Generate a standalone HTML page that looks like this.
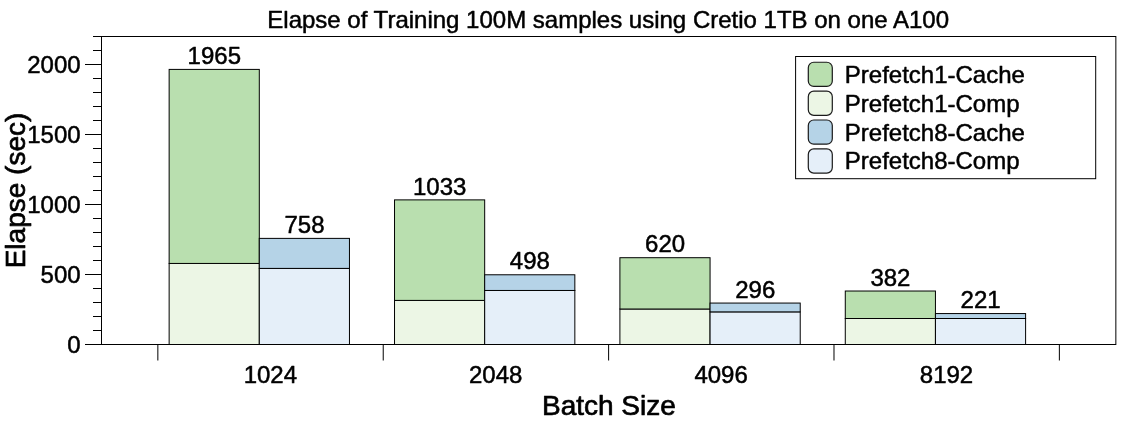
<!DOCTYPE html>
<html><head><meta charset="utf-8"><title>chart</title>
<style>
html,body{margin:0;padding:0;background:#fff;}
svg{display:block}
text{font-family:"Liberation Sans",sans-serif;fill:#000;stroke:#000;stroke-width:0.5px;stroke-linejoin:round}
svg{will-change:transform}
.t24{font-size:24px}
.t28{font-size:28px;stroke-width:0.7px}
</style></head><body>
<svg width="1128" height="426" viewBox="0 0 1128 426">
<rect x="0" y="0" width="1128" height="426" fill="#fff"/>
<rect x="169.14" y="263.44" width="90.16" height="81.06" fill="#ecf6e5" stroke="#000" stroke-width="1"/>
<rect x="169.14" y="69.40" width="90.16" height="194.04" fill="#b9dfaf" stroke="#000" stroke-width="1"/>
<rect x="259.30" y="268.40" width="90.16" height="76.10" fill="#e5eff9" stroke="#000" stroke-width="1"/>
<rect x="259.30" y="238.38" width="90.16" height="30.02" fill="#b5d3e7" stroke="#000" stroke-width="1"/>
<rect x="394.52" y="300.40" width="90.16" height="44.10" fill="#ecf6e5" stroke="#000" stroke-width="1"/>
<rect x="394.52" y="199.88" width="90.16" height="100.52" fill="#b9dfaf" stroke="#000" stroke-width="1"/>
<rect x="484.68" y="290.46" width="90.16" height="54.04" fill="#e5eff9" stroke="#000" stroke-width="1"/>
<rect x="484.68" y="274.78" width="90.16" height="15.68" fill="#b5d3e7" stroke="#000" stroke-width="1"/>
<rect x="619.90" y="309.00" width="90.16" height="35.50" fill="#ecf6e5" stroke="#000" stroke-width="1"/>
<rect x="619.90" y="257.70" width="90.16" height="51.30" fill="#b9dfaf" stroke="#000" stroke-width="1"/>
<rect x="710.06" y="311.89" width="90.16" height="32.61" fill="#e5eff9" stroke="#000" stroke-width="1"/>
<rect x="710.06" y="303.06" width="90.16" height="8.83" fill="#b5d3e7" stroke="#000" stroke-width="1"/>
<rect x="845.28" y="318.50" width="90.16" height="26.00" fill="#ecf6e5" stroke="#000" stroke-width="1"/>
<rect x="845.28" y="291.02" width="90.16" height="27.48" fill="#b9dfaf" stroke="#000" stroke-width="1"/>
<rect x="935.44" y="318.50" width="90.16" height="26.00" fill="#e5eff9" stroke="#000" stroke-width="1"/>
<rect x="935.44" y="313.56" width="90.16" height="4.94" fill="#b5d3e7" stroke="#000" stroke-width="1"/>
<rect x="101.5" y="36.5" width="1014.3499999999999" height="308.0" fill="none" stroke="#000" stroke-width="1"/>
<line x1="85" y1="344.50" x2="101.5" y2="344.50" stroke="#000" stroke-width="1"/>
<line x1="93" y1="330.50" x2="101.5" y2="330.50" stroke="#000" stroke-width="1"/>
<line x1="93" y1="316.50" x2="101.5" y2="316.50" stroke="#000" stroke-width="1"/>
<line x1="93" y1="302.50" x2="101.5" y2="302.50" stroke="#000" stroke-width="1"/>
<line x1="93" y1="288.50" x2="101.5" y2="288.50" stroke="#000" stroke-width="1"/>
<line x1="85" y1="274.50" x2="101.5" y2="274.50" stroke="#000" stroke-width="1"/>
<line x1="93" y1="260.50" x2="101.5" y2="260.50" stroke="#000" stroke-width="1"/>
<line x1="93" y1="246.50" x2="101.5" y2="246.50" stroke="#000" stroke-width="1"/>
<line x1="93" y1="232.50" x2="101.5" y2="232.50" stroke="#000" stroke-width="1"/>
<line x1="93" y1="218.50" x2="101.5" y2="218.50" stroke="#000" stroke-width="1"/>
<line x1="85" y1="204.50" x2="101.5" y2="204.50" stroke="#000" stroke-width="1"/>
<line x1="93" y1="190.50" x2="101.5" y2="190.50" stroke="#000" stroke-width="1"/>
<line x1="93" y1="176.50" x2="101.5" y2="176.50" stroke="#000" stroke-width="1"/>
<line x1="93" y1="162.50" x2="101.5" y2="162.50" stroke="#000" stroke-width="1"/>
<line x1="93" y1="148.50" x2="101.5" y2="148.50" stroke="#000" stroke-width="1"/>
<line x1="85" y1="134.50" x2="101.5" y2="134.50" stroke="#000" stroke-width="1"/>
<line x1="93" y1="120.50" x2="101.5" y2="120.50" stroke="#000" stroke-width="1"/>
<line x1="93" y1="106.50" x2="101.5" y2="106.50" stroke="#000" stroke-width="1"/>
<line x1="93" y1="92.50" x2="101.5" y2="92.50" stroke="#000" stroke-width="1"/>
<line x1="93" y1="78.50" x2="101.5" y2="78.50" stroke="#000" stroke-width="1"/>
<line x1="85" y1="64.50" x2="101.5" y2="64.50" stroke="#000" stroke-width="1"/>
<line x1="93" y1="50.50" x2="101.5" y2="50.50" stroke="#000" stroke-width="1"/>
<line x1="93" y1="36.50" x2="101.5" y2="36.50" stroke="#000" stroke-width="1"/>
<text class="t24" x="80.6" y="353.40" text-anchor="end">0</text>
<text class="t24" x="80.6" y="283.40" text-anchor="end">500</text>
<text class="t24" x="80.6" y="213.40" text-anchor="end">1000</text>
<text class="t24" x="80.6" y="143.40" text-anchor="end">1500</text>
<text class="t24" x="80.6" y="73.40" text-anchor="end">2000</text>
<line x1="157.85" y1="344.5" x2="157.85" y2="360.5" stroke="#000" stroke-width="1"/>
<line x1="383.23" y1="344.5" x2="383.23" y2="360.5" stroke="#000" stroke-width="1"/>
<line x1="608.61" y1="344.5" x2="608.61" y2="360.5" stroke="#000" stroke-width="1"/>
<line x1="833.99" y1="344.5" x2="833.99" y2="360.5" stroke="#000" stroke-width="1"/>
<line x1="1059.37" y1="344.5" x2="1059.37" y2="360.5" stroke="#000" stroke-width="1"/>
<text class="t24" x="270.34" y="383.3" text-anchor="middle">1024</text>
<text class="t24" x="495.72" y="383.3" text-anchor="middle">2048</text>
<text class="t24" x="721.10" y="383.3" text-anchor="middle">4096</text>
<text class="t24" x="946.48" y="383.3" text-anchor="middle">8192</text>
<text class="t24" x="214.32" y="64.10" text-anchor="middle">1965</text>
<text class="t24" x="304.48" y="233.08" text-anchor="middle">758</text>
<text class="t24" x="439.70" y="194.58" text-anchor="middle">1033</text>
<text class="t24" x="529.86" y="269.48" text-anchor="middle">498</text>
<text class="t24" x="665.08" y="252.40" text-anchor="middle">620</text>
<text class="t24" x="755.24" y="297.76" text-anchor="middle">296</text>
<text class="t24" x="890.46" y="285.72" text-anchor="middle">382</text>
<text class="t24" x="980.62" y="308.26" text-anchor="middle">221</text>
<text class="t24" x="608.2" y="27.7" text-anchor="middle">Elapse of Training 100M samples using Cretio 1TB on one A100</text>
<text class="t28" x="608.9" y="415.0" text-anchor="middle">Batch Size</text>
<text class="t28" transform="translate(25.3,190.5) rotate(-90)" text-anchor="middle">Elapse (sec)</text>
<rect x="795.6" y="56.5" width="300.1" height="122.2" fill="#fff" stroke="#000" stroke-width="1"/>
<rect x="808.3" y="62.25" width="24" height="24.2" rx="5.5" ry="5.5" fill="#b9dfaf" stroke="#1a1a1a" stroke-width="1.2"/>
<text class="t24" x="844.8" y="82.70">Prefetch1-Cache</text>
<rect x="808.3" y="91.13" width="24" height="24.2" rx="5.5" ry="5.5" fill="#ecf6e5" stroke="#1a1a1a" stroke-width="1.2"/>
<text class="t24" x="844.8" y="111.63">Prefetch1-Comp</text>
<rect x="808.3" y="120.01" width="24" height="24.2" rx="5.5" ry="5.5" fill="#b5d3e7" stroke="#1a1a1a" stroke-width="1.2"/>
<text class="t24" x="844.8" y="140.56">Prefetch8-Cache</text>
<rect x="808.3" y="148.89" width="24" height="24.2" rx="5.5" ry="5.5" fill="#e5eff9" stroke="#1a1a1a" stroke-width="1.2"/>
<text class="t24" x="844.8" y="169.49">Prefetch8-Comp</text>
</svg></body></html>
